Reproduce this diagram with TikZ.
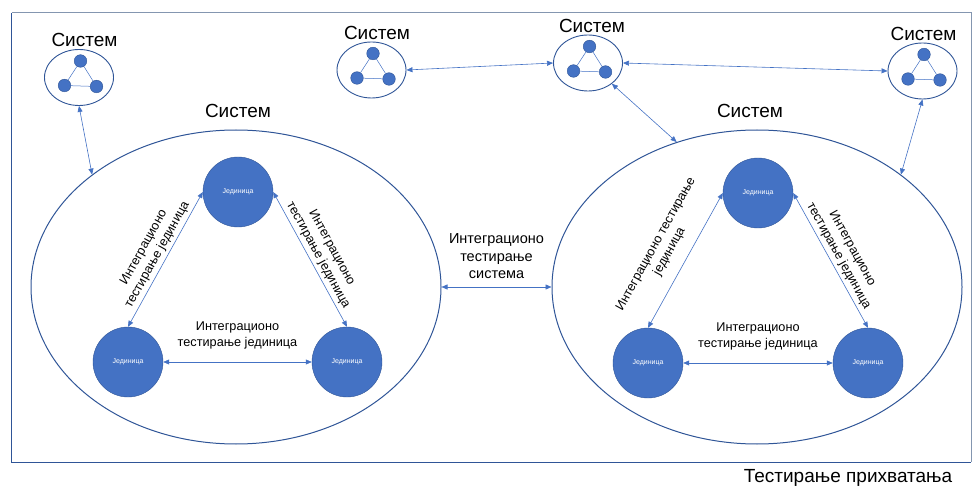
\documentclass[tikz,border=0pt]{standalone}
\usepackage{fontspec}
\setsansfont{Liberation Sans}
\usetikzlibrary{arrows.meta,shapes.geometric}
\definecolor{offblue}{HTML}{4472C4}
\definecolor{rimblue}{HTML}{2F5597}
\definecolor{framegray}{HTML}{8496B0}
\tikzset{
 sysbig/.style={draw=rimblue,line width=1pt,ellipse,minimum width=410pt,minimum height=314pt,inner sep=0pt},
 syssmall/.style={draw=rimblue,line width=.9pt,ellipse,minimum width=69pt,minimum height=56pt,inner sep=0pt},
 unitnode/.style={circle,fill=offblue,draw=rimblue,line width=.4pt,minimum size=70pt,inner sep=0pt,text=white,font=\sffamily\fontsize{7}{8}\selectfont},
 sdot/.style={circle,fill=offblue,draw=rimblue,line width=.4pt,minimum size=12.6pt,inner sep=0pt},
 conn/.style={draw=offblue,line width=.6pt,{Triangle[length=6pt,width=5pt]}-{Triangle[length=6pt,width=5pt]}},
 bigtxt/.style={font=\sffamily\fontsize{19}{22}\selectfont},
 tlab/.style={font=\sffamily\fontsize{12.7}{15.5}\selectfont,align=center,inner sep=0pt}
}
\begin{document}
\begin{tikzpicture}[font=\sffamily,x=1pt,y=-1pt]
\useasboundingbox (0,0) rectangle (972,489);
\draw[framegray,line width=1pt] (11.5,13) -- (971,13) -- (971,462);
\draw[rimblue,line width=1pt] (11.5,13) -- (11.5,462) -- (971,462);
\node[bigtxt] (acc) at (848,478){Тестирање прихватања};
% small systems
\foreach \n/\x/\y/\lx in {a/79/77.5/84.5,b/371.5/70/377,c/588/63/592,d/922.5/71/923.5}{
\node[syssmall] (s\n) at (\x,\y){};
\node[sdot] (s\n1) at (\x+1.5,\y-16.5){};\node[sdot] (s\n2) at (\x-14.5,\y+8){};\node[sdot] (s\n3) at (\x+17.5,\y+9){};
\draw[offblue,line width=.5pt] (s\n1) -- (s\n2) -- (s\n3) -- (s\n1);
\node[bigtxt] (t\n) at (\lx,\y-37.5){Систем};}
% big systems
\node[sysbig] (L) at (236,287){};\node[bigtxt] (tL) at (238,111){Систем};
\node[sysbig] (R) at (757,287){};\node[bigtxt] (tR) at (750,111){Систем};
\node[unitnode] (l1) at (238,192){Јединица};\node[unitnode] (l2) at (128,362){Јединица};\node[unitnode] (l3) at (347,362){Јединица};
\node[unitnode] (r1) at (758,193){Јединица};\node[unitnode] (r2) at (648,363){Јединица};\node[unitnode] (r3) at (868,363){Јединица};
\draw[conn] (l2.north) -- node[tlab,sloped,above=3pt]{Интеграционо\\тестирање јединица} (l1.west);
\draw[conn] (l1.east) -- node[tlab,sloped,above=3pt]{Интеграционо\\тестирање јединица} (l3.north);
\draw[conn] (l2.east) -- node[tlab,above=13pt]{Интеграционо\\тестирање јединица} (l3.west);
\draw[conn] (r2.north) -- node[tlab,sloped,above=12pt]{Интеграционо тестирање\\јединица} (r1.west);
\draw[conn] (r1.east) -- node[tlab,sloped,above=3pt]{Интеграционо\\тестирање јединица} (r3.north);
\draw[conn] (r2.east) -- node[tlab,above=13pt]{Интеграционо\\тестирање јединица} (r3.west);
% links between systems
\draw[conn] (sa.south) -- (L.142);
\draw[conn] (sb.east) -- (sc.west);
\draw[conn] (sc.east) -- (sd.west);
\draw[conn] (sc.-41) -- (R.119);
\draw[conn] (sd.south) -- (R.38);
\draw[conn] (L.east) -- node[tlab,font=\sffamily\fontsize{14.5}{17.5}\selectfont,above=8pt]{Интеграционо\\тестирање\\система} (R.west);
\end{tikzpicture}
\end{document}
